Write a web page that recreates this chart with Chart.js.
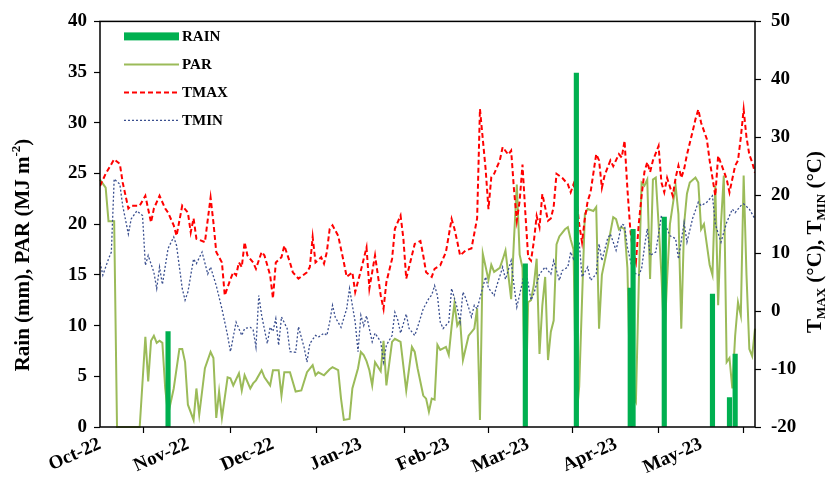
<!DOCTYPE html>
<html>
<head>
<meta charset="utf-8">
<script src="https://cdn.jsdelivr.net/npm/chart.js@4.4.0/dist/chart.umd.min.js"></script>
<style>
  html, body { margin: 0; padding: 0; background: #fff; }
  #wrap { width: 827px; height: 477px; }
</style>
</head>
<body>
<div id="wrap"><canvas id="chart"></canvas></div>
<script>
// Дни от 1 октября 2022 (день 0) и подписи месяцев
const monthDays = [0, 31, 61, 92, 123, 151, 182, 212];
const monthLabels = ['Oct-22', 'Nov-22', 'Dec-22', 'Jan-23', 'Feb-23', 'Mar-23', 'Apr-23', 'May-23'];
const lastDay = 231; // 20 мая 2023

// Осадки, мм: [день, значение]
const rain = [[24, 9.4], [150, 16.1], [168, 34.9], [187, 13.7], [188, 19.5], [199, 20.7], [216, 13.1], [222, 2.9], [224, 7.2]];

// PAR, MJ m-2
const par = [
  [0, 24.4], [2, 23.6], [3, 20.3], [5, 20.3], [6, 0], [14, 0], [16, 8.9], [17, 4.5], [18, 8.5], [19, 9.0],
  [20, 8.3], [21, 8.5], [22, 8.3], [23, 3.8], [24, 1.2], [26, 3.8], [28, 7.7], [29, 7.7], [30, 6.4], [31, 2.2],
  [33, 0.7], [34, 3.8], [35, 1.2], [37, 5.8], [39, 7.4], [40, 6.8], [41, 0.9], [42, 3.5], [43, 0.9], [45, 4.9],
  [46, 4.8], [47, 4.1], [49, 5.3], [50, 3.6], [51, 5.1], [53, 3.8], [54, 4.3], [55, 4.6], [57, 5.6], [58, 4.9],
  [60, 4.1], [61, 5.6], [63, 5.6], [64, 3.1], [65, 5.4], [67, 5.4], [69, 3.5], [71, 3.6], [73, 5.4], [75, 6.1],
  [76, 5.1], [77, 5.4], [79, 5.1], [81, 5.7], [82, 5.9], [84, 5.6], [85, 2.8], [86, 0.7], [88, 0.8], [89, 3.8],
  [91, 5.8], [92, 7.4], [93, 7.1], [94, 6.5], [95, 5.6], [96, 4.1], [97, 6.4], [99, 5.5], [100, 8.5], [101, 4.1],
  [103, 8.4], [104, 8.7], [106, 8.4], [108, 3.6], [110, 7.9], [111, 7.4], [112, 5.8], [114, 3.1], [115, 2.8], [116, 1.5],
  [117, 2.8], [118, 2.7], [119, 8.1], [120, 7.6], [122, 7.9], [123, 7.1], [124, 9.9], [125, 12.2], [126, 10], [127, 10.5],
  [128, 6.6], [130, 9.0], [132, 9.7], [133, 11.7], [134, 0.7], [135, 17.1], [137, 14.5], [138, 16], [139, 15.3], [141, 15.7],
  [142, 16.5], [143, 17.4], [145, 12.6], [146, 18.5], [147, 23.9], [148, 17], [149, 15.7], [150, 0.5], [151, 12.3], [152, 12.5],
  [153, 14], [154, 16.6], [155, 7.2], [156, 12], [157, 14.8], [158, 6.6], [159, 9.4], [160, 10.5], [161, 18], [162, 18.8],
  [164, 19.5], [165, 19.7], [166, 18.5], [167, 17.5], [168, 0.7], [169, 4.0], [171, 21.0], [172, 21.5], [174, 21.3], [175, 21.7],
  [176, 9.7], [177, 15], [179, 17.7], [181, 20.7], [182, 20.5], [183, 19.5], [184, 19.7], [185, 19.5], [186, 15.7], [187, 3.8],
  [188, 3.1], [189, 2.5], [190, 14], [191, 24.1], [192, 23.8], [193, 24.4], [194, 14.6], [195, 24.4], [196, 24.6], [197, 20],
  [198, 15], [199, 8.4], [200, 14.5], [201, 20], [203, 23.8], [204, 21], [205, 9.7], [206, 20], [207, 23], [208, 24.1],
  [210, 24.6], [211, 24.1], [212, 19.5], [213, 20], [214, 18], [215, 16], [216, 15], [217, 23.8], [218, 12], [219, 20],
  [220, 24.8], [221, 6.4], [222, 6.8], [223, 3.8], [224, 9], [225, 12.3], [226, 11], [227, 24.8], [228, 15], [229, 7.7],
  [230, 7.0], [231, 9.7]
];

// Максимальная температура, °C
const tmax = [
  [0, 21.6], [2, 23.7], [5, 26.2], [7, 25.4], [8, 22.2], [10, 17.7], [11, 18.2], [14, 18.2], [16, 19.9], [18, 15.3],
  [19, 17.7], [21, 19.9], [23, 17.7], [24, 17], [26, 14.8], [27, 13], [29, 18.2], [31, 17], [32, 13.6], [33, 16],
  [34, 12.5], [37, 11.9], [39, 19.6], [40, 15.3], [41, 10.2], [43, 8.4], [44, 2.7], [46, 5.5], [47, 6.7], [48, 6.2],
  [49, 8.4], [50, 7.6], [51, 11.9], [52, 9.6], [54, 8.4], [55, 7.3], [57, 10.2], [58, 9.6], [60, 6.2], [61, 2.2],
  [62, 8.4], [64, 9.3], [65, 11.3], [67, 8.4], [68, 6.7], [70, 5.6], [73, 6.7], [74, 7.6], [75, 12.8], [76, 8.4],
  [78, 9.3], [79, 8.2], [80, 10.2], [81, 14.2], [82, 14.8], [84, 13], [86, 8.4], [87, 5.9], [89, 6.7], [90, 3.3],
  [92, 7.0], [93, 9.0], [94, 11.0], [95, 3.9], [97, 9.6], [98, 6.2], [99, 2.7], [100, 0.4], [101, 5.0], [103, 9.0],
  [104, 14.2], [106, 16.5], [107, 12.5], [108, 5.6], [110, 9.6], [111, 11.6], [113, 12.1], [114, 9.6], [115, 6.7], [117, 5.9],
  [118, 7.3], [120, 7.9], [122, 10.2], [124, 15.9], [125, 14.2], [126, 12], [127, 9.6], [129, 10.5], [131, 10.8], [133, 16],
  [134, 34.9], [136, 24.5], [137, 17.6], [138, 23.1], [139, 23.7], [141, 26.0], [142, 28.3], [144, 27.0], [145, 27.7], [146, 21],
  [147, 15.6], [148, 19], [149, 25.3], [150, 17], [151, 9.3], [152, 8.7], [153, 12], [154, 16.4], [155, 14.5], [156, 20.2],
  [158, 15.6], [159, 16], [160, 18], [161, 23.7], [163, 23], [165, 21.9], [166, 20.5], [167, 21.9], [168, 19.5], [169, 15],
  [170, 11.9], [171, 16], [172, 19.0], [173, 20.5], [175, 27.1], [176, 26], [177, 21.3], [178, 23.5], [180, 26.0], [181, 25],
  [183, 27.1], [184, 26.5], [185, 29.4], [186, 21.1], [187, 14.2], [188, 10.2], [189, 8.4], [190, 15], [191, 19.9], [192, 24],
  [193, 25.7], [194, 24], [195, 26], [197, 28.5], [198, 22.2], [199, 20.5], [200, 23], [202, 19.9], [203, 23], [204, 25.1],
  [205, 23], [206, 24.5], [207, 27], [209, 31], [210, 33.1], [211, 34.8], [212, 32.5], [214, 29.7], [215, 26], [216, 23],
  [217, 19.9], [218, 26.8], [219, 25.5], [221, 22.8], [222, 20.5], [224, 25.1], [225, 26], [226, 30], [227, 34.8], [228, 30],
  [229, 27], [230, 25.7], [231, 23.9]
];

// Минимальная температура, °C
const tmin = [
  [0, 8.4], [1, 6.2], [3, 9.0], [4, 10.2], [5, 22.8], [7, 21.9], [8, 18.2], [10, 13.3], [11, 15.9], [13, 17.3],
  [15, 16.5], [16, 7.9], [17, 9.6], [19, 6.7], [20, 3.9], [21, 7.6], [22, 4.6], [24, 10.8], [26, 12.8], [27, 11.3],
  [29, 3.9], [30, 1.9], [31, 3.3], [33, 9.0], [34, 8.2], [36, 10.2], [38, 6.4], [39, 7.6], [41, 4.4], [43, 0.4],
  [45, -4.2], [46, -7.0], [48, -1.9], [50, -4.2], [51, -3], [53, -2.8], [54, -3.2], [55, -6.2], [56, 2.7], [57, -0.7],
  [59, -5.6], [60, -2.8], [61, -3.5], [62, -1.3], [63, -5.9], [64, -1.0], [66, -3.0], [67, -7.0], [69, -7.1], [70, -2.7],
  [72, -6.3], [73, -8.8], [74, -5.6], [76, -4.2], [77, -4.5], [79, -3.8], [80, -4.2], [81, -1.9], [82, 1.0], [83, -1.1],
  [85, -2.8], [87, 0.4], [88, 3.9], [90, -1.9], [91, -7.0], [92, -0.7], [93, -2.5], [94, -0.8], [96, -5.3], [97, -3.8],
  [99, -5.3], [100, -8.8], [101, -5.9], [103, -4.2], [104, -0.2], [105, -1.5], [106, -3.8], [108, -0.5], [109, -3.0], [111, -4.2],
  [112, -2.8], [114, 0.4], [116, 2.2], [117, 2.8], [118, 4.4], [119, 2.7], [120, -1.9], [121, -3.0], [123, -1.9], [124, 3.9],
  [126, 0.5], [127, -1.9], [128, 3.3], [129, 2.2], [131, -1.0], [132, 1.0], [133, 0.4], [135, 4.1], [136, 5.9], [137, 4.0],
  [139, 2.7], [140, 4.5], [141, 6], [142, 7.6], [143, 5.5], [145, 8.7], [146, 4.5], [147, 0.7], [149, 5], [150, 7.6],
  [152, 1.9], [153, 3], [155, 6.4], [157, 7.6], [159, 6.4], [160, 8.7], [162, 5.3], [163, 7], [165, 7.6], [166, 10.2],
  [167, 9], [169, 11.9], [170, 5.9], [172, 7.6], [173, 5.3], [175, 6.4], [176, 11.6], [177, 8.7], [179, 12.5], [180, 13.3],
  [182, 10.5], [184, 15.0], [185, 14.8], [186, 11], [188, 6.7], [190, 6.2], [191, 7.3], [192, 11], [193, 14.2], [194, 9.6],
  [196, 10.2], [198, 16.5], [199, 15.3], [201, 13], [203, 12.5], [204, 9.0], [206, 15.3], [207, 11.9], [209, 16], [211, 18.8],
  [212, 18.2], [214, 18.8], [216, 19.9], [217, 15], [219, 11.9], [221, 15.3], [223, 17.6], [224, 17], [226, 18.2], [227, 18.5],
  [229, 17.6], [231, 15.9]
];

const FONT = 'Liberation Serif';
const toPoints = (arr) => arr.map(([x, y]) => ({ x, y }));

// Рамка вокруг области графика
const frameBorderPlugin = {
  id: 'frameBorder',
  afterDraw(chart) {
    const { ctx, chartArea: a } = chart;
    ctx.save();
    ctx.strokeStyle = '#000';
    ctx.lineWidth = 1.5;
    ctx.strokeRect(a.left, a.top, a.right - a.left, a.bottom - a.top);
    ctx.restore();
  },
};

// Легенда внутри области графика, столбиком
const legendPlugin = {
  id: 'innerLegend',
  afterDraw(chart) {
    const { ctx, chartArea: a } = chart;
    const x0 = a.left + 24;
    const x1 = x0 + 55;
    const items = [
      { text: 'RAIN', kind: 'bar', color: '#00b050' },
      { text: 'PAR', kind: 'line', color: '#9bbb59', width: 2, dash: [] },
      { text: 'TMAX', kind: 'line', color: '#ff0000', width: 2, dash: [5, 3] },
      { text: 'TMIN', kind: 'line', color: '#3a4f8f', width: 1.3, dash: [2, 2] },
    ];
    ctx.save();
    items.forEach((it, i) => {
      const y = a.top + 15 + i * 28;
      if (it.kind === 'bar') {
        ctx.fillStyle = it.color;
        ctx.fillRect(x0, y - 4, x1 - x0, 8);
      } else {
        ctx.strokeStyle = it.color;
        ctx.lineWidth = it.width;
        ctx.setLineDash(it.dash);
        ctx.beginPath();
        ctx.moveTo(x0, y);
        ctx.lineTo(x1, y);
        ctx.stroke();
        ctx.setLineDash([]);
      }
      ctx.fillStyle = '#000';
      ctx.font = `bold 15px "${FONT}"`;
      ctx.textBaseline = 'middle';
      ctx.textAlign = 'left';
      ctx.fillText(it.text, x1 + 3, y + 1);
    });
    ctx.restore();
  },
};

// Подписи осей с индексами
function drawRichVertical(ctx, parts, cx, cy) {
  ctx.save();
  ctx.translate(cx, cy);
  ctx.rotate(-Math.PI / 2);
  ctx.fillStyle = '#000';
  ctx.textBaseline = 'middle';
  ctx.textAlign = 'left';
  let total = 0;
  parts.forEach((p) => {
    ctx.font = `bold ${p.size}px "${FONT}"`;
    p.w = ctx.measureText(p.t).width;
    total += p.w;
  });
  let x = -total / 2;
  parts.forEach((p) => {
    ctx.font = `bold ${p.size}px "${FONT}"`;
    ctx.fillText(p.t, x, p.dy || 0);
    x += p.w;
  });
  ctx.restore();
}

const axisTitlesPlugin = {
  id: 'axisTitles',
  afterDraw(chart) {
    const { ctx } = chart;
    drawRichVertical(ctx, [
      { t: 'Rain (mm), PAR (MJ m', size: 21 },
      { t: '-2', size: 13, dy: -7 },
      { t: ')', size: 21 },
    ], 24, 255);
    drawRichVertical(ctx, [
      { t: 'T', size: 21 },
      { t: 'MAX', size: 13, dy: 6 },
      { t: ' (°C), T', size: 21 },
      { t: 'MIN', size: 13, dy: 6 },
      { t: ' (°C)', size: 21 },
    ], 816, 242);
  },
};

const tickFont = { family: FONT, size: 19, weight: 'bold' };
const axisGrid = { drawOnChartArea: false, color: '#000', tickLength: 6, tickWidth: 1.2 };

new Chart(document.getElementById('chart').getContext('2d'), {
  type: 'line',
  data: {
    datasets: [
      {
        type: 'bar',
        label: 'RAIN',
        data: toPoints(rain),
        yAxisID: 'y',
        backgroundColor: '#00b050',
        borderWidth: 0,
        barThickness: 4.5,
        order: 0,
      },
      {
        label: 'TMIN',
        data: toPoints(tmin),
        yAxisID: 'y1',
        borderColor: '#3a4f8f',
        borderWidth: 1.3,
        borderDash: [2, 2],
        pointRadius: 0,
        order: 1,
      },
      {
        label: 'TMAX',
        data: toPoints(tmax),
        yAxisID: 'y1',
        borderColor: '#ff0000',
        borderWidth: 2,
        borderDash: [5, 3],
        pointRadius: 0,
        order: 2,
      },
      {
        label: 'PAR',
        data: toPoints(par),
        yAxisID: 'y',
        borderColor: '#9bbb59',
        borderWidth: 2,
        pointRadius: 0,
        clip: 3,
        order: 3,
      },
    ],
  },
  options: {
    responsive: true,
    maintainAspectRatio: false,
    animation: false,
    layout: { padding: { top: 20, left: 0, right: 0, bottom: 0 } },
    plugins: {
      legend: { display: false },
      tooltip: { enabled: false },
    },
    scales: {
      x: {
        type: 'linear',
        position: 'bottom',
        min: 0,
        max: lastDay,
        offset: false,
        afterBuildTicks: (scale) => {
          scale.ticks = monthDays.map((v) => ({ value: v }));
        },
        afterFit: (scale) => {
          scale.height = 50;
        },
        ticks: {
          autoSkip: false,
          minRotation: 24,
          maxRotation: 24,
          color: '#000',
          font: tickFont,
          padding: 0,
          callback: (value, index) => monthLabels[index],
        },
        grid: axisGrid,
        border: { display: false },
      },
      y: {
        position: 'left',
        min: 0,
        max: 40,
        afterFit: (scale) => {
          scale.width = 100;
        },
        ticks: { stepSize: 5, color: '#000', font: tickFont, padding: 7 },
        grid: axisGrid,
        border: { display: false },
      },
      y1: {
        position: 'right',
        min: -20,
        max: 50,
        afterFit: (scale) => {
          scale.width = 72;
        },
        ticks: { stepSize: 10, color: '#000', font: tickFont, padding: 10 },
        grid: axisGrid,
        border: { display: false },
      },
    },
  },
  plugins: [frameBorderPlugin, legendPlugin, axisTitlesPlugin],
});
</script>
</body>
</html>
